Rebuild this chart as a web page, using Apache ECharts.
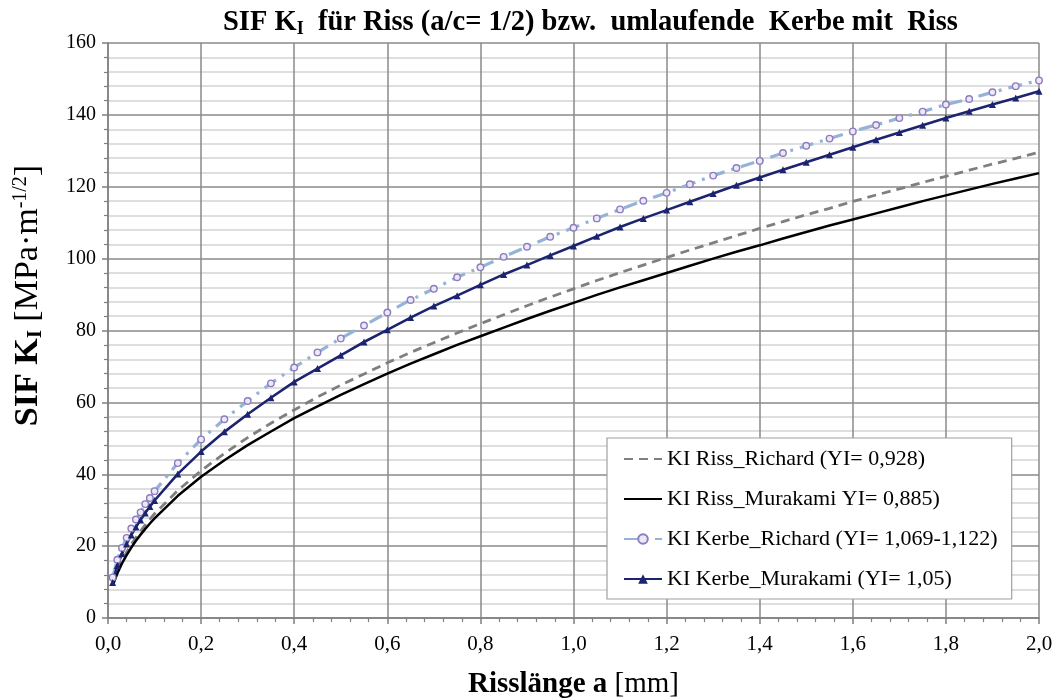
<!DOCTYPE html>
<html>
<head>
<meta charset="utf-8">
<script src="https://cdn.jsdelivr.net/npm/echarts@6/dist/echarts.min.js"></script>
<style>html,body{margin:0;padding:0;background:#fff}#c{width:1058px;height:699px}</style>
</head>
<body>
<div id="c"></div>
<script>
const crackLength = [0.01,0.02,0.03,0.04,0.05,0.06,0.07,0.08,0.09,0.10,
  0.15,0.20,0.25,0.30,0.35,0.40,0.45,0.50,0.55,0.60,0.65,0.70,0.75,0.80,0.85,0.90,0.95,1.00,
  1.05,1.10,1.15,1.20,1.25,1.30,1.35,1.40,1.45,1.50,1.55,1.60,1.65,1.70,1.75,1.80,1.85,1.90,1.95,2.00];
const rissRichard = [9.4,13.0,15.9,18.3,20.5,22.4,24.2,25.9,27.5,29.0,
  35.5,41.0,45.8,50.2,54.2,57.9,61.5,64.8,67.9,71.0,73.9,76.6,79.3,81.9,84.4,86.9,89.3,91.6,
  93.9,96.1,98.2,100.3,102.4,104.4,106.4,108.4,110.3,112.2,114.0,115.9,117.7,119.4,121.2,122.9,124.6,126.3,127.9,129.6];
const rissMurakami = [9.0,12.4,15.2,17.5,19.6,21.5,23.2,24.8,26.3,27.7,
  34.0,39.3,43.9,48.1,51.9,55.6,58.9,62.1,65.1,68.0,70.8,73.4,76.0,78.4,80.8,83.2,85.5,87.7,
  89.9,92.0,94.0,96.0,98.0,100.0,101.9,103.7,105.6,107.4,109.2,110.9,112.6,114.3,116.0,117.6,119.2,120.8,122.3,123.8];
const kerbeRichard = [11.3,16.2,19.5,22.3,24.9,27.4,29.4,31.7,33.4,35.3,
  43.1,49.7,55.3,60.4,65.3,69.7,73.9,77.8,81.4,85.0,88.5,91.6,94.8,97.6,100.5,103.3,106.1,108.6,
  111.2,113.7,116.1,118.3,120.7,123.1,125.2,127.2,129.4,131.4,133.4,135.4,137.2,139.1,140.9,142.9,144.4,146.3,148.0,149.6];
const kerbeMurakami = [9.9,14.6,17.9,20.6,23.1,25.3,27.3,29.2,31.0,32.7,
  40.1,46.3,51.8,56.7,61.3,65.7,69.4,73.1,76.8,80.2,83.6,86.8,89.7,92.7,95.6,98.2,100.9,103.5,
  106.2,108.8,111.2,113.5,115.8,118.1,120.4,122.6,124.7,126.8,128.9,131.0,133.1,135.1,137.1,139.1,141.0,142.9,144.7,146.6];
const seriesNames = ['KI Riss_Richard (YI= 0,928)','KI Riss_Murakami YI= 0,885)','KI Kerbe_Richard (YI= 1,069-1,122)','KI Kerbe_Murakami (YI= 1,05)'];

const F = '"Liberation Serif","Times New Roman",serif';
const pairs = ys => crackLength.map((x,i)=>[x,ys[i]]);
const chart = echarts.init(document.getElementById('c'));
chart.setOption({
  animation:false,
  backgroundColor:'#fff',
  title:{
    text:'{b|SIF K}{s|I}{b|  für Riss (a/c= 1/2) bzw.  umlaufende  Kerbe mit  Riss}',
    left:218, top:2,
    textStyle:{ rich:{
      b:{fontFamily:F,fontWeight:'bold',fontSize:28.5,color:'#000'},
      s:{fontFamily:F,fontWeight:'bold',fontSize:18,color:'#000',padding:[13,0,0,0]}
    }}
  },
  grid:{left:108,right:19,top:43,bottom:81,containLabel:false,outerBoundsMode:'none'},
  xAxis:{
    type:'value',min:0,max:2,interval:0.2,
    name:'{b|Risslänge a }{n|[mm]}',nameLocation:'middle',nameGap:52,
    nameTextStyle:{rich:{
      b:{fontFamily:F,fontWeight:'bold',fontSize:29,color:'#000'},
      n:{fontFamily:F,fontSize:29,color:'#000'}
    }},
    axisLine:{show:true,lineStyle:{color:'#7f7f7f',width:1.5}},
    axisTick:{show:true,inside:false,length:6,lineStyle:{color:'#7f7f7f',width:1.5}},
    minorTick:{show:true,splitNumber:5,length:4,lineStyle:{color:'#7f7f7f',width:1.2}},
    axisLabel:{fontFamily:F,fontSize:21,color:'#000',margin:16,
      formatter:v=>v.toFixed(1).replace('.',',')},
    splitLine:{show:true,lineStyle:{color:'#8a8a8a',width:1.5}}
  },
  yAxis:{
    type:'value',min:0,max:160,interval:20,
    name:'{b|SIF K}{s|I}{n| [MPa·m}{p|-1/2}{n|]}',nameLocation:'middle',nameGap:62,nameRotate:90,
    nameTextStyle:{padding:[0,0,0,70],rich:{
      b:{fontFamily:F,fontWeight:'bold',fontSize:34,color:'#000'},
      s:{fontFamily:F,fontWeight:'bold',fontSize:21,color:'#000',padding:[15,0,0,0]},
      n:{fontFamily:F,fontSize:34,color:'#000'},
      p:{fontFamily:F,fontSize:20,color:'#000',padding:[0,0,15,0]}
    }},
    axisLine:{show:true,lineStyle:{color:'#7f7f7f',width:1.5}},
    axisTick:{show:true,inside:false,length:6,lineStyle:{color:'#7f7f7f',width:1.5}},
    minorTick:{show:true,splitNumber:5,length:4,lineStyle:{color:'#7f7f7f',width:1.2}},
    axisLabel:{fontFamily:F,fontSize:20,color:'#000',margin:12},
    splitLine:{show:true,lineStyle:{color:'#8a8a8a',width:1.5}},
    minorSplitLine:{show:true,lineStyle:{color:'#d4d4d4',width:1.5}}
  },
  legend:{
    orient:'vertical',left:607,top:438,
    backgroundColor:'#fff',borderColor:'#a0a0a0',borderWidth:1.2,
    padding:[10,14,9,16],itemWidth:38,itemHeight:12,itemGap:18,
    textStyle:{fontFamily:F,fontSize:22,color:'#000'},
    data:[
      {name:seriesNames[0],itemStyle:{opacity:0}},
      {name:seriesNames[1],itemStyle:{opacity:0}},
      {name:seriesNames[2]},
      {name:seriesNames[3]}
    ]
  },
  series:[
    {name:seriesNames[0],type:'line',data:pairs(rissRichard),symbol:'none',
      lineStyle:{color:'#7f7f7f',width:2.8,type:[9,6]},itemStyle:{color:'#7f7f7f'}},
    {name:seriesNames[1],type:'line',data:pairs(rissMurakami),symbol:'none',
      lineStyle:{color:'#000',width:2.5},itemStyle:{color:'#000'}},
    {name:seriesNames[2],type:'line',data:pairs(kerbeRichard),symbol:'circle',symbolSize:6.5,
      lineStyle:{color:'#95b3d7',width:3.2,type:[14,7,3,7]},
      itemStyle:{color:'#ece8f5',borderColor:'#8c7cc0',borderWidth:1.4}},
    {name:seriesNames[3],type:'line',data:pairs(kerbeMurakami),symbol:'triangle',symbolSize:7,
      lineStyle:{color:'#1c2470',width:2.6},itemStyle:{color:'#1c2470'}}
  ]
});
</script>
</body>
</html>
